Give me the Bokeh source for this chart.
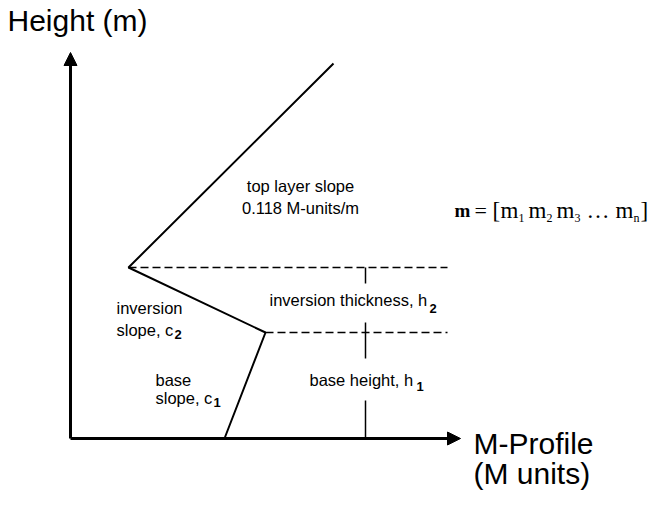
from bokeh.plotting import figure
from bokeh.models import Range1d, Arrow, NormalHead
from bokeh.core.properties import value
from bokeh.embed import file_html
from bokeh.resources import INLINE

# Schematic M-profile (M units vs height), arbitrary diagram units
profile_m = [154, 195, 58, 263]      # ground, base top, inversion top, top layer
profile_h = [0, 106, 171, 375]
h1_level = 106                       # base height h1
h2_level = 171                       # top of inversion (h1 + h2)
marker_m = 295                       # where the h1/h2 markers are drawn
dash_end_m = 377

p = figure(width=650, height=492, output_backend="svg", toolbar_location=None,
           x_range=Range1d(-70, 580), y_range=Range1d(-54, 438),
           min_border=0, outline_line_color=None)
p.axis.visible = False
p.grid.visible = False
p.background_fill_color = "white"
p.border_fill_color = "white"

# axes with arrows
p.add_layout(Arrow(end=NormalHead(size=13, fill_color="black", line_color="black", line_width=1),
                   x_start=0, y_start=0, x_end=0, y_end=386, line_width=3, line_color="black"))
p.add_layout(Arrow(end=NormalHead(size=13, fill_color="black", line_color="black", line_width=1),
                   x_start=0, y_start=0, x_end=390, y_end=0, line_width=3, line_color="black"))

# profile
p.line(profile_m, profile_h, line_width=2, line_color="black")

# dashed level lines
p.line([profile_m[2], dash_end_m], [h2_level, h2_level], line_width=1.5,
       line_color="black", line_dash="8 4")
p.line([profile_m[1], dash_end_m], [h1_level, h1_level], line_width=1.5,
       line_color="black", line_dash="8 4")

# vertical markers for h1 and h2
p.multi_line([[marker_m, marker_m], [marker_m, marker_m], [marker_m, marker_m]],
             [[0, 38], [80, 116], [155, h2_level]], line_width=1.5, line_color="black")

sans = value("Liberation Sans")
serif = value("Liberation Serif")

def txt(x, y, s, size, font=sans, style="normal", align="left"):
    p.text([x], [y], text=[s], text_font=font, text_font_size=size,
           text_font_style=style, text_align=align, text_baseline="alphabetic",
           text_color="black")

txt(-63, 418, "Height (m)", "30px")
txt(403, -5, "M-Profile", "30px")
txt(403, -35, "(M units)", "30px")

txt(230, 253, "top layer slope", "16.5px", align="center")
txt(230, 231, "0.118 M-units/m", "16.5px", align="center")

txt(199, 139, "inversion thickness, h", "16.5px")
txt(359, 130, "2", "13px", style="bold")

txt(46, 131, "inversion", "16.5px")
txt(46, 109, "slope, c", "16.5px")
txt(104, 104, "2", "13px", style="bold")

txt(85, 59, "base", "16.5px")
txt(85, 41, "slope, c", "16.5px")
txt(143, 36, "1", "13px", style="bold")

txt(239, 59, "base height, h", "16.5px")
txt(346, 52, "1", "13px", style="bold")

# m = [m1 m2 m3 ... mn]
ey, sy = 228, 221
txt(384, ey, "m", "19px", font=serif, style="bold")
txt(404, ey, "=", "22px", font=serif)
txt(422, ey, "[", "23px", font=serif)
txt(430, ey, "m", "23px", font=serif)
txt(448, sy, "1", "12px", font=serif)
txt(458, ey, "m", "23px", font=serif)
txt(476, sy, "2", "12px", font=serif)
txt(486, ey, "m", "23px", font=serif)
txt(504, sy, "3", "12px", font=serif)
txt(516, ey, "…", "23px", font=serif)
txt(545, ey, "m", "23px", font=serif)
txt(563, sy, "n", "12px", font=serif)
txt(570, ey, "]", "23px", font=serif)

open("out.html", "w").write(file_html(p, INLINE))
